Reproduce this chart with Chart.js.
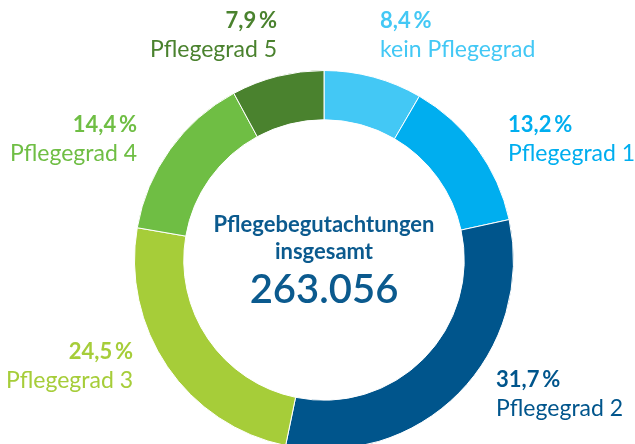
<!DOCTYPE html>
<html>
<head>
<meta charset="utf-8">
<script src="https://cdn.jsdelivr.net/npm/chart.js@4"></script>
<style>
  html, body { margin: 0; padding: 0; background: #fff; overflow: hidden; }
  #wrap { width: 635px; height: 520px; position: relative; }
</style>
</head>
<body>
<div id="wrap"><canvas id="pflegeChart"></canvas></div>
<script>
// Daten aus der Grafik
const kategorien = ['kein Pflegegrad', 'Pflegegrad 1', 'Pflegegrad 2', 'Pflegegrad 3', 'Pflegegrad 4', 'Pflegegrad 5'];
const anteile = [8.4, 13.2, 31.7, 24.5, 14.4, 7.9];
const farben = ['#43c8f5', '#00aeef', '#00558c', '#a6cd39', '#6fbe44', '#4a822e'];
const titelZeilen = ['Pflegebegutachtungen', 'insgesamt'];
const gesamt = '263.056';

const schrift = 'Lato, "Open Sans", sans-serif';
const dunkelblau = '#0b5a8e';

// Position der Beschriftungen relativ zur Mitte des Rings
const beschriftungsPos = [
    { dx: 56, dy: -232, align: 'left' },
    { dx: 184, dy: -128, align: 'left' },
    { dx: 172, dy: 127, align: 'left' },
    { dx: -191, dy: 99, align: 'right' },
    { dx: -187, dy: -128, align: 'right' },
    { dx: -47, dy: -232, align: 'right' }
];

const beschriftungen = {
    id: 'beschriftungen',
    afterDraw(chart) {
        const ctx = chart.ctx;
        const meta = chart.getDatasetMeta(0);
        const cx = meta.data[0].x;
        const cy = meta.data[0].y;
        ctx.save();
        ctx.textBaseline = 'alphabetic';
        chart.data.labels.forEach((name, i) => {
            const p = beschriftungsPos[i];
            const wert = chart.data.datasets[0].data[i];
            ctx.fillStyle = farben[i];
            ctx.textAlign = p.align;
            ctx.font = 'bold 22px ' + schrift;
            ctx.fillText(wert.toFixed(1).replace('.', ',') + '\u2009%', cx + p.dx, cy + p.dy);
            ctx.font = '23px ' + schrift;
            ctx.fillText(name, cx + p.dx, cy + p.dy + 29);
        });
        // Text in der Mitte
        ctx.fillStyle = dunkelblau;
        ctx.textAlign = 'center';
        ctx.font = 'bold 22px ' + schrift;
        ctx.fillText(titelZeilen[0], cx, cy - 28);
        ctx.fillText(titelZeilen[1], cx, cy - 1);
        ctx.font = '600 40px ' + schrift;
        ctx.fillText(gesamt, cx, cy + 43);
        ctx.restore();
    }
};

const ctx = document.getElementById('pflegeChart').getContext('2d');
const pflegeChart = new Chart(ctx, {
    type: 'doughnut',
    data: {
        labels: kategorien,
        datasets: [{
            data: anteile,
            backgroundColor: farben,
            borderColor: '#ffffff',
            borderWidth: 1
        }]
    },
    options: {
        responsive: true,
        maintainAspectRatio: false,
        animation: false,
        cutout: '74%',
        layout: { padding: { top: 70, bottom: 70, left: 134, right: 121 } },
        plugins: {
            legend: { display: false },
            tooltip: { enabled: false }
        }
    },
    plugins: [beschriftungen]
});
</script>
</body>
</html>
